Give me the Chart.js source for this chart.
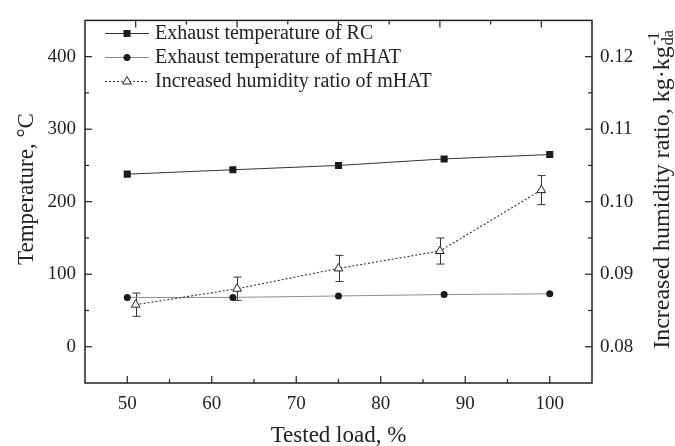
<!DOCTYPE html>
<html>
<head>
<meta charset="utf-8">
<script src="https://cdn.jsdelivr.net/npm/chart.js@4/dist/chart.umd.min.js"></script>
<style>
  html, body { margin: 0; padding: 0; background: #fff; }
</style>
</head>
<body>
<canvas id="chart" width="675" height="446"></canvas>
<script>
// data
const loads = [50, 62.5, 75, 87.5, 100];
const rcTemp = [238, 244, 250, 259, 265];
const mhatTemp = [68, 68, 70, 72, 73];
const humidityLoads = [51, 63, 75, 87, 99];
const humidity = [0.0858, 0.0880, 0.0908, 0.0932, 0.1016];
const humidityErr = [0.0016, 0.0016, 0.0018, 0.0018, 0.0020];

const xTicks = [50, 60, 70, 80, 90, 100];
const xMinor = [55, 65, 75, 85, 95];
const topMinor = [57, 69, 81, 93];
const yTicks = [0, 100, 200, 300, 400];
const yMinor = [50, 150, 250, 350];
const y1Ticks = [0.08, 0.09, 0.10, 0.11, 0.12];
const y1Minor = [0.085, 0.095, 0.105, 0.115];

const legendLabels = ['Exhaust temperature of RC', 'Exhaust temperature of mHAT', 'Increased humidity ratio of mHAT'];

const SERIF = '"Liberation Serif", "Times New Roman", serif';
const INK = '#222';

function pts(xs, ys) {
  return xs.map((x, i) => ({ x: x, y: ys[i] }));
}

function marker(ctx, style, x, y) {
  ctx.save();
  ctx.beginPath();
  if (style === 'rect') {
    ctx.fillStyle = '#1b1b1b';
    ctx.rect(x - 3.5, y - 3.5, 7, 7);
    ctx.fill();
  } else if (style === 'circle') {
    ctx.fillStyle = '#1b1b1b';
    ctx.arc(x, y, 3.5, 0, Math.PI * 2);
    ctx.fill();
  } else {
    ctx.fillStyle = '#fff';
    ctx.strokeStyle = INK;
    ctx.lineWidth = 1;
    ctx.moveTo(x, y - 5);
    ctx.lineTo(x + 4.33, y + 2.5);
    ctx.lineTo(x - 4.33, y + 2.5);
    ctx.closePath();
    ctx.fill();
    ctx.stroke();
  }
  ctx.restore();
}

const decorations = {
  id: 'decorations',
  beforeDatasetsDraw(chart) {
    // error bars for the humidity series
    const ctx = chart.ctx, x = chart.scales.x, y1 = chart.scales.y1;
    ctx.save();
    ctx.strokeStyle = '#333';
    ctx.lineWidth = 1;
    humidityLoads.forEach((l, i) => {
      const px = Math.round(x.getPixelForValue(l)) + 0.5;
      const top = y1.getPixelForValue(humidity[i] + humidityErr[i]);
      const bot = y1.getPixelForValue(humidity[i] - humidityErr[i]);
      ctx.beginPath();
      ctx.moveTo(px, top); ctx.lineTo(px, bot);
      ctx.moveTo(px - 4, top); ctx.lineTo(px + 4, top);
      ctx.moveTo(px - 4, bot); ctx.lineTo(px + 4, bot);
      ctx.stroke();
    });
    ctx.restore();
  },
  afterDraw(chart) {
    const ctx = chart.ctx;
    const a = chart.chartArea;
    const x = chart.scales.x, y = chart.scales.y, y1 = chart.scales.y1;

    ctx.save();
    ctx.strokeStyle = INK;
    ctx.lineWidth = 1.5;
    ctx.strokeRect(a.left, a.top, a.right - a.left, a.bottom - a.top);

    ctx.lineWidth = 1.2;
    const tick = (x0, y0, x1, y2) => {
      ctx.beginPath(); ctx.moveTo(x0, y0); ctx.lineTo(x1, y2); ctx.stroke();
    };
    xTicks.forEach(v => { const p = x.getPixelForValue(v); tick(p, a.bottom, p, a.bottom - 7); });
    xMinor.forEach(v => { const p = x.getPixelForValue(v); tick(p, a.bottom, p, a.bottom - 4); });
    humidityLoads.forEach(v => { const p = x.getPixelForValue(v); tick(p, a.top, p, a.top + 7); });
    topMinor.forEach(v => { const p = x.getPixelForValue(v); tick(p, a.top, p, a.top + 4); });
    yTicks.forEach(v => { const p = y.getPixelForValue(v); tick(a.left, p, a.left + 7, p); });
    yMinor.forEach(v => { const p = y.getPixelForValue(v); tick(a.left, p, a.left + 4, p); });
    y1Ticks.forEach(v => { const p = y1.getPixelForValue(v); tick(a.right, p, a.right - 7, p); });
    y1Minor.forEach(v => { const p = y1.getPixelForValue(v); tick(a.right, p, a.right - 4, p); });

    // legend
    const styles = ['rect', 'circle', 'triangle'];
    const lineColors = ['#333', '#8c8c8c', '#333'];
    ctx.font = '20px ' + SERIF;
    ctx.fillStyle = INK;
    ctx.textBaseline = 'middle';
    legendLabels.forEach((label, i) => {
      const ly = 33 + i * 24;
      ctx.save();
      ctx.strokeStyle = lineColors[i];
      ctx.lineWidth = 1;
      if (i === 2) ctx.setLineDash([2, 2]);
      ctx.beginPath(); ctx.moveTo(105, ly + 0.5); ctx.lineTo(149, ly + 0.5); ctx.stroke();
      ctx.restore();
      marker(ctx, styles[i], 127, ly + 0.5);
      ctx.fillText(label, 155, ly + 1);
    });

    // axis titles
    ctx.font = '23px ' + SERIF;
    ctx.textBaseline = 'alphabetic';
    ctx.textAlign = 'center';
    ctx.fillText('Tested load, %', (a.left + a.right) / 2, 442);

    ctx.save();
    ctx.translate(33, 189);
    ctx.rotate(-Math.PI / 2);
    ctx.fillText('Temperature, \u00B0C', 0, 0);
    ctx.restore();

    ctx.save();
    ctx.translate(669, 190);
    ctx.rotate(-Math.PI / 2);
    const main = 'Increased humidity ratio, kg\u00B7kg';
    ctx.font = '24px ' + SERIF;
    const mw = ctx.measureText(main).width;
    ctx.font = '16px ' + SERIF;
    const sw = Math.max(ctx.measureText('-1').width, ctx.measureText('da').width);
    const start = -(mw + sw) / 2;
    ctx.textAlign = 'left';
    ctx.font = '24px ' + SERIF;
    ctx.fillText(main, start, 0);
    ctx.font = '16px ' + SERIF;
    ctx.fillText('-1', start + mw + 1, -10);
    ctx.fillText('da', start + mw + 1, 4);
    ctx.restore();

    ctx.restore();
  }
};

new Chart(document.getElementById('chart'), {
  type: 'line',
  data: {
    datasets: [
      {
        label: legendLabels[2],
        data: pts(humidityLoads, humidity),
        yAxisID: 'y1',
        borderColor: '#333',
        borderWidth: 1.1,
        borderDash: [2, 2],
        pointStyle: 'triangle',
        pointRadius: 5,
        pointBackgroundColor: '#fff',
        pointBorderColor: INK,
        pointBorderWidth: 1
      },
      {
        label: legendLabels[0],
        data: pts(loads, rcTemp),
        yAxisID: 'y',
        borderColor: '#333',
        borderWidth: 1,
        pointStyle: 'rect',
        pointRadius: 5,
        pointBackgroundColor: '#1b1b1b',
        pointBorderWidth: 0
      },
      {
        label: legendLabels[1],
        data: pts(loads, mhatTemp),
        yAxisID: 'y',
        borderColor: '#8c8c8c',
        borderWidth: 1,
        pointStyle: 'circle',
        pointRadius: 3.5,
        pointBackgroundColor: '#1b1b1b',
        pointBorderWidth: 0
      }
    ]
  },
  options: {
    responsive: false,
    animation: false,
    layout: { padding: { top: 14, left: 0, right: 0, bottom: 0 } },
    plugins: { legend: { display: false }, tooltip: { enabled: false } },
    scales: {
      x: {
        type: 'linear',
        min: 45, max: 105,
        grid: { display: false, drawTicks: false },
        border: { display: false },
        afterBuildTicks: s => { s.ticks = xTicks.map(v => ({ value: v })); },
        afterFit: s => { s.height = 63; },
        ticks: { color: INK, font: { family: SERIF, size: 19 }, padding: 10, callback: v => String(v) }
      },
      y: {
        position: 'left',
        min: -50, max: 450,
        grid: { display: false, drawTicks: false },
        border: { display: false },
        afterBuildTicks: s => { s.ticks = yTicks.map(v => ({ value: v })); },
        afterFit: s => { s.width = 85; },
        ticks: { color: INK, font: { family: SERIF, size: 19 }, padding: 9, callback: v => String(v) }
      },
      y1: {
        position: 'right',
        min: 0.075, max: 0.125,
        grid: { display: false, drawTicks: false },
        border: { display: false },
        afterBuildTicks: s => { s.ticks = y1Ticks.map(v => ({ value: v })); },
        afterFit: s => { s.width = 83; },
        ticks: { color: INK, font: { family: SERIF, size: 19 }, padding: 8, callback: v => Number(v).toFixed(2) }
      }
    }
  },
  plugins: [decorations]
});
</script>
</body>
</html>
